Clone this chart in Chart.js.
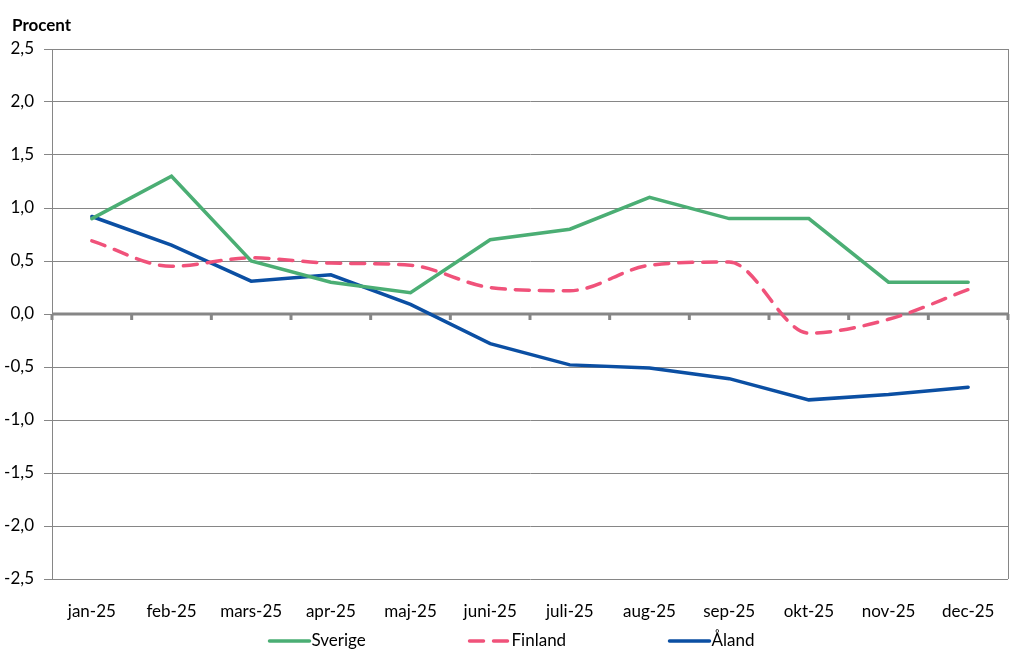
<!DOCTYPE html>
<html><head><meta charset="utf-8">
<script src="https://cdn.jsdelivr.net/npm/chart.js@4/dist/chart.umd.min.js"></script>
<style>html,body{margin:0;padding:0;background:#fff}#wrap{width:1024px;height:670px}</style>
</head><body><div id="wrap"><canvas id="c"></canvas></div>
<script>
const categories = ["jan-25","feb-25","mars-25","apr-25","maj-25","juni-25","juli-25","aug-25","sep-25","okt-25","nov-25","dec-25"];
const sverige = [0.9, 1.3, 0.5, 0.3, 0.2, 0.7, 0.8, 1.1, 0.9, 0.9, 0.3, 0.3];
const finland = [0.69, 0.45, 0.53, 0.48, 0.46, 0.25, 0.22, 0.46, 0.49, -0.18, -0.05, 0.23];
const aland = [0.92, 0.65, 0.31, 0.37, 0.09, -0.28, -0.48, -0.51, -0.61, -0.81, -0.76, -0.69];
const yMin = -2.5, yMax = 2.5, yStep = 0.5;
const titleText = 'Procent';

const FONT = "Lato, 'Open Sans', sans-serif";
const GRID = "#868686";

const framePlugin = {
  id: 'frame',
  beforeDatasetsDraw(chart) {
    const {ctx, chartArea: a, scales: {x, y}} = chart;
    ctx.save();
    ctx.strokeStyle = GRID;
    ctx.lineWidth = 1;
    ctx.beginPath();
    ctx.moveTo(Math.round(a.right) + 0.5, a.top);
    ctx.lineTo(Math.round(a.right) + 0.5, a.bottom);
    ctx.stroke();
    const y0 = y.getPixelForValue(0);
    ctx.lineWidth = 3;
    ctx.beginPath();
    ctx.moveTo(a.left, y0);
    ctx.lineTo(a.right + 1, y0);
    ctx.stroke();
    const half = (x.getPixelForValue(1) - x.getPixelForValue(0)) / 2;
    for (let i = 0; i <= categories.length; i++) {
      const px = i < categories.length ? x.getPixelForValue(i) - half : x.getPixelForValue(i - 1) + half;
      ctx.beginPath();
      ctx.moveTo(px, y0);
      ctx.lineTo(px, y0 + 6);
      ctx.stroke();
    }
    ctx.restore();
  },
  afterDraw(chart) {
    const {ctx, width} = chart;
    ctx.save();
    ctx.fillStyle = '#000';
    ctx.font = "bold 17px " + FONT;
    ctx.textBaseline = 'middle';
    ctx.textAlign = 'left';
    ctx.fillText(titleText, 12, 26);
    const ds = chart.data.datasets;
    ctx.font = "17px " + FONT;
    const pitch = 200, lineW = 40, gap = 2;
    const lastW = lineW + gap + ctx.measureText(ds[ds.length - 1].label).width;
    const total = pitch * (ds.length - 1) + lastW;
    let sx = width / 2 - total / 2;
    const ly = 641;
    ds.forEach((d, i) => {
      const x0 = sx + i * pitch;
      ctx.strokeStyle = d.borderColor;
      ctx.lineWidth = d.borderWidth;
      ctx.lineCap = 'round';
      ctx.setLineDash(d.borderDash || []);
      ctx.beginPath();
      ctx.moveTo(x0, ly);
      ctx.lineTo(x0 + lineW, ly);
      ctx.stroke();
      ctx.setLineDash([]);
      ctx.fillStyle = '#000';
      ctx.fillText(d.label, x0 + lineW + gap, ly);
    });
    ctx.restore();
  }
};

new Chart(document.getElementById('c'), {
  type: 'line',
  data: {
    labels: categories,
    datasets: [
      {label: 'Sverige', data: sverige, borderColor: '#4BAE74', backgroundColor: '#4BAE74', borderWidth: 3.5, pointRadius: 0, tension: 0, borderCapStyle: 'round'},
      {label: 'Finland', data: finland, borderColor: '#F0527A', backgroundColor: '#F0527A', borderWidth: 3.5, pointRadius: 0, borderDash: [14, 10], cubicInterpolationMode: 'monotone', borderCapStyle: 'round'},
      {label: 'Åland', data: aland, borderColor: '#0B4FA3', backgroundColor: '#0B4FA3', borderWidth: 3.5, pointRadius: 0, tension: 0, borderCapStyle: 'round'}
    ]
  },
  options: {
    responsive: true,
    maintainAspectRatio: false,
    animation: false,
    layout: {padding: {left: 0, right: 16, top: 49, bottom: 0}},
    plugins: {
      title: {display: false},
      legend: {display: false},
      tooltip: {enabled: false}
    },
    scales: {
      x: {offset: true, grid: {display: false}, border: {display: false},
        afterFit: s => { s.height = 91; },
        ticks: {color: '#000', font: {family: FONT, size: 17}, padding: 14, maxRotation: 0, autoSkip: false}},
      y: {min: yMin, max: yMax,
        afterFit: s => { s.width = 52; },
        ticks: {stepSize: yStep, color: '#000', font: {family: FONT, size: 17}, padding: 10,
          callback: v => v.toFixed(1).replace('.', ',')},
        grid: {color: GRID, lineWidth: 1, tickLength: 8, drawTicks: true},
        border: {color: GRID, width: 1}}
    }
  },
  plugins: [framePlugin]
});
</script>
</body></html>
